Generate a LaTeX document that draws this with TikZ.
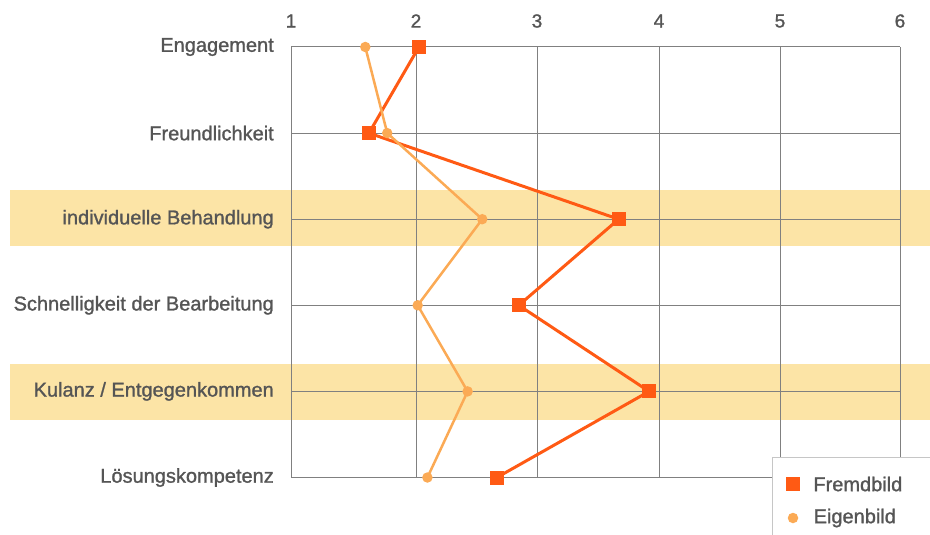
\documentclass[tikz,border=0pt]{standalone}
\usepackage{fontspec}
\setmainfont{Liberation Sans}
\newfontfamily\chartfont{Liberation Sans}[FakeBold=1.2]
\usetikzlibrary{positioning}
\definecolor{fremd}{RGB}{255,90,20}
\definecolor{eigen}{RGB}{251,170,85}
\definecolor{band}{RGB}{252,228,166}
\definecolor{txt}{RGB}{85,85,85}
\definecolor{gridgray}{RGB}{128,128,128}
\tikzset{
  rowlabel/.style={anchor=east,text=txt,font=\chartfont\fontsize{20}{22}\selectfont,inner sep=0pt},
  numlabel/.style={text=txt,font=\chartfont\fontsize{19}{21}\selectfont,inner sep=0pt},
  legtext/.style={text=txt,font=\chartfont\fontsize{20}{22}\selectfont,inner sep=0pt},
  fmark/.style={fill=fremd,minimum size=14pt,inner sep=0pt},
  emark/.style={circle,fill=eigen,minimum size=10.5pt,inner sep=0pt},
  fline/.style={fremd,line width=3pt},
  eline/.style={eigen,line width=2.5pt},
  gridline/.style={gridgray,line width=1pt}
}
\begin{document}
\begin{tikzpicture}[x=1pt,y=-1pt]
\useasboundingbox (0,0) rectangle (930,535);
\fill[band] (10,190) rectangle (930,246);
\fill[band] (10,364) rectangle (930,420);
\foreach \i/\gx in {1/291,2/416,3/537,4/659,5/780,6/900}{
  \node[numlabel] (n\i) at (\gx,21) {\i};
  \draw[gridline] (\gx,47) -- (\gx,477.5);
}
\foreach \i/\t in {1/Engagement,2/Freundlichkeit,3/individuelle Behandlung,4/Schnelligkeit der Bearbeitung,5/{Kulanz / Entgegenkommen},6/Lösungskompetenz}{
  \draw[gridline] (291,{47+(\i-1)*86.1}) -- (900,{47+(\i-1)*86.1});
  \node[rowlabel] (l\i) at (274,{47+(\i-1)*86.1}) {\t};
}
% Fremdbild / Eigenbild
\foreach \v [count=\i] in {2.05,1.64,3.69,2.87,3.94,2.69}
  \coordinate (f\i) at ({291+(\v-1)*121.8},{47+(\i-1)*86.1});
\foreach \v [count=\i] in {1.61,1.79,2.57,2.04,2.45,2.12}
  \coordinate (e\i) at ({291+(\v-1)*121.8},{47+(\i-1)*86.1});
\draw[fline] (f1) -- (f2) -- (f3) -- (f4) -- (f5) -- (f6);
\draw[eline] (e1) -- (e2) -- (e3) -- (e4) -- (e5) -- (e6);
\foreach \i in {1,...,6}{
  \node[fmark] at (f\i) {};
  \node[emark] at (e\i) {};
}
% legend
\draw[gray!45,fill=white] (772,457) rectangle (936,541);
\node[fmark] (lf) at (793,484) {};
\node[legtext,anchor=west,right=13pt of lf] (lft) {Fremdbild};
\node[emark] (le) at (793,518) {};
\node[legtext,anchor=west,right=15pt of le] (let) {Eigenbild};
\end{tikzpicture}
\end{document}
